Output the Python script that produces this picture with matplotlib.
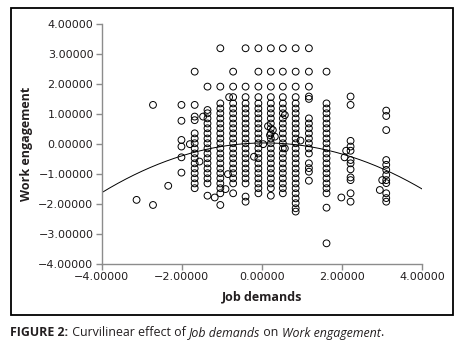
import matplotlib
matplotlib.use("Agg")
import matplotlib.pyplot as plt
import numpy as np
from matplotlib.patches import Rectangle
from matplotlib.ticker import FuncFormatter

# ---------------------------------------------------------------------------
# Data
# ---------------------------------------------------------------------------

# discrete work-engagement scores that the stacked columns sit on
ENGAGEMENT_LEVELS = [1.36, 1.19, 1.03, 0.86, 0.69, 0.53, 0.36, 0.19, 0.03,
                     -0.14, -0.31, -0.47, -0.64, -0.81, -0.97, -1.14, -1.31,
                     -1.47, -1.64, -1.81, -1.97, -2.14, -2.31]

# job-demands values with a stacked column of cases
COLUMN_X = [-1.68, -1.36, -1.04, -0.72, -0.41, -0.09, 0.22, 0.52, 0.84, 1.17, 1.61]
# first / last engagement level (index into ENGAGEMENT_LEVELS) of each stack
COLUMN_RUN = [(6, 17), (2, 16), (0, 18), (0, 16), (0, 16), (0, 18),
              (0, 17), (0, 18), (0, 21), (3, 10), (0, 18)]
# cases in each column outside the stack
COLUMN_EXTRA = [
    [2.42, 1.31, 0.92, 0.80],
    [1.92, 1.14, -1.72],
    [3.20, 1.92, -2.03],
    [2.42, 1.92, 1.57, -1.64],
    [3.20, 1.92, 1.57, -1.75, -1.92],
    [3.20, 2.42, 1.92, 1.57],
    [3.20, 2.42, 1.92, 1.57, -1.72],
    [3.20, 2.42, 1.92, 1.57],
    [3.20, 2.42, 1.92, 1.57, -2.25],
    [3.20, 2.42, 1.92, 1.59, 1.51, -0.64, -0.80, -0.92, -1.22],
    [2.42, -2.12, -3.31],
]

# remaining individual cases
POINT_X = [-3.13, -2.72, -2.72, -2.34,
           -2.01, -2.01, -2.01, -2.01, -2.01, -2.01,
           -1.80, -1.56, -1.47, -1.18, -0.82, -0.85, -0.91, -0.20,
           0.03, 0.15, 0.27, 0.20, 0.32, 0.57, 0.57, 0.96,
           2.21, 2.21, 2.21, 2.21, 2.21, 2.21, 2.21, 2.21, 2.21, 2.21, 2.21, 2.21,
           2.10, 2.06, 1.98,
           3.10, 3.10, 3.10, 3.10, 3.10, 3.10, 3.10, 3.10, 3.10, 3.10, 3.10, 3.10,
           3.00, 2.94]
POINT_Y = [-1.86, 1.31, -2.03, -1.39,
           1.31, 0.78, 0.14, -0.08, -0.44, -0.95,
           0.00, -0.58, 0.92, -1.78, 1.57, -1.00, -1.50, -0.42,
           0.00, 0.60, 0.47, 0.30, 0.25, 0.97, -0.14, 0.12,
           1.59, 1.31, 0.11, -0.08, -0.22, -0.53, -0.64, -0.84, -1.11, -1.20, -1.64, -1.92,
           -0.22, -0.44, -1.78,
           1.12, 0.94, 0.47, -0.53, -0.69, -0.86, -1.03, -1.20, -1.30, -1.64, -1.80, -1.92,
           -1.20, -1.53]

# quadratic fit line: engagement = a + b*demands + c*demands^2
FIT_A, FIT_B, FIT_C = 0.04, 0.015, -0.10
FIT_RANGE = (-4.0, 4.0)

X_TICKS = [-4, -2, 0, 2, 4]
Y_TICKS = [-4, -3, -2, -1, 0, 1, 2, 3, 4]

X_LABEL = "Job demands"
Y_LABEL = "Work engagement"
CAPTION = [("FIGURE 2:", "normal", "bold"),
           (" Curvilinear effect of ", "normal", "normal"),
           ("Job demands", "italic", "normal"),
           (" on ", "normal", "normal"),
           ("Work engagement", "italic", "normal"),
           (".", "normal", "normal")]

# ---------------------------------------------------------------------------
# Style
# ---------------------------------------------------------------------------

AXIS_GREY = "#8C8C8C"
TEXT = "#231F20"
LABEL_FONT = ["Open Sans", "DejaVu Sans"]


def collect_points():
    xs, ys = [], []
    for x, run, extra in zip(COLUMN_X, COLUMN_RUN, COLUMN_EXTRA):
        stack = ENGAGEMENT_LEVELS[run[0]:run[1] + 1]
        for y in stack + extra:
            xs.append(x)
            ys.append(y)
    xs += POINT_X
    ys += POINT_Y
    return np.array(xs), np.array(ys)


def fmt(v, _pos):
    return f"{v:.5f}".replace("-", "\u2212")


def main():
    fig = plt.figure(figsize=(4.65, 3.52), dpi=100)
    fig.patch.set_facecolor("white")

    # outer frame round the chart
    fig.patches.append(Rectangle((10.7 / 465, 1 - 315 / 352),
                                 (452.7 - 10.7) / 465, (315 - 8.3) / 352,
                                 transform=fig.transFigure, fill=False,
                                 edgecolor="black", linewidth=1.3))

    ax = fig.add_axes([101.7 / 465, 1 - 264 / 352,
                       (422.3 - 101.7) / 465, (264 - 24.3) / 352])

    xs, ys = collect_points()
    ax.scatter(xs, ys, s=24, facecolors="none", edgecolors="black",
               linewidths=0.7, zorder=3, clip_on=False)

    fx = np.linspace(FIT_RANGE[0], FIT_RANGE[1], 200)
    ax.plot(fx, FIT_A + FIT_B * fx + FIT_C * fx ** 2,
            color="black", linewidth=0.7, zorder=2)

    ax.set_xlim(-4, 4)
    ax.set_ylim(-4, 4)
    ax.set_xticks(X_TICKS)
    ax.set_yticks(Y_TICKS)
    ax.xaxis.set_major_formatter(FuncFormatter(fmt))
    ax.yaxis.set_major_formatter(FuncFormatter(fmt))

    for side in ("top", "right"):
        ax.spines[side].set_visible(False)
    for side in ("left", "bottom"):
        ax.spines[side].set_color(AXIS_GREY)
        ax.spines[side].set_linewidth(1.0)
    ax.tick_params(direction="out", length=4, width=1.0, color=AXIS_GREY,
                   labelsize=8, labelcolor=TEXT, pad=2)

    ax.set_xlabel(X_LABEL, fontsize=9, fontweight="bold", family=LABEL_FONT,
                  color=TEXT, labelpad=6)
    ax.set_ylabel(Y_LABEL, fontsize=9, fontweight="bold", family=LABEL_FONT,
                  color=TEXT, labelpad=4)

    # caption with mixed styles, pieces laid out one after the other
    fig.canvas.draw()
    renderer = fig.canvas.get_renderer()
    x = 10.5 / 465
    y = 1 - 333 / 352
    for piece, style, weight in CAPTION:
        t = fig.text(x, y, piece, fontsize=8.9, fontstyle=style,
                     fontweight=weight, family=LABEL_FONT, color=TEXT,
                     va="center", ha="left")
        bb = t.get_window_extent(renderer=renderer)
        x += bb.width / fig.bbox.width

    fig.savefig("out.png", dpi=100)
    plt.close(fig)


if __name__ == "__main__":
    main()
